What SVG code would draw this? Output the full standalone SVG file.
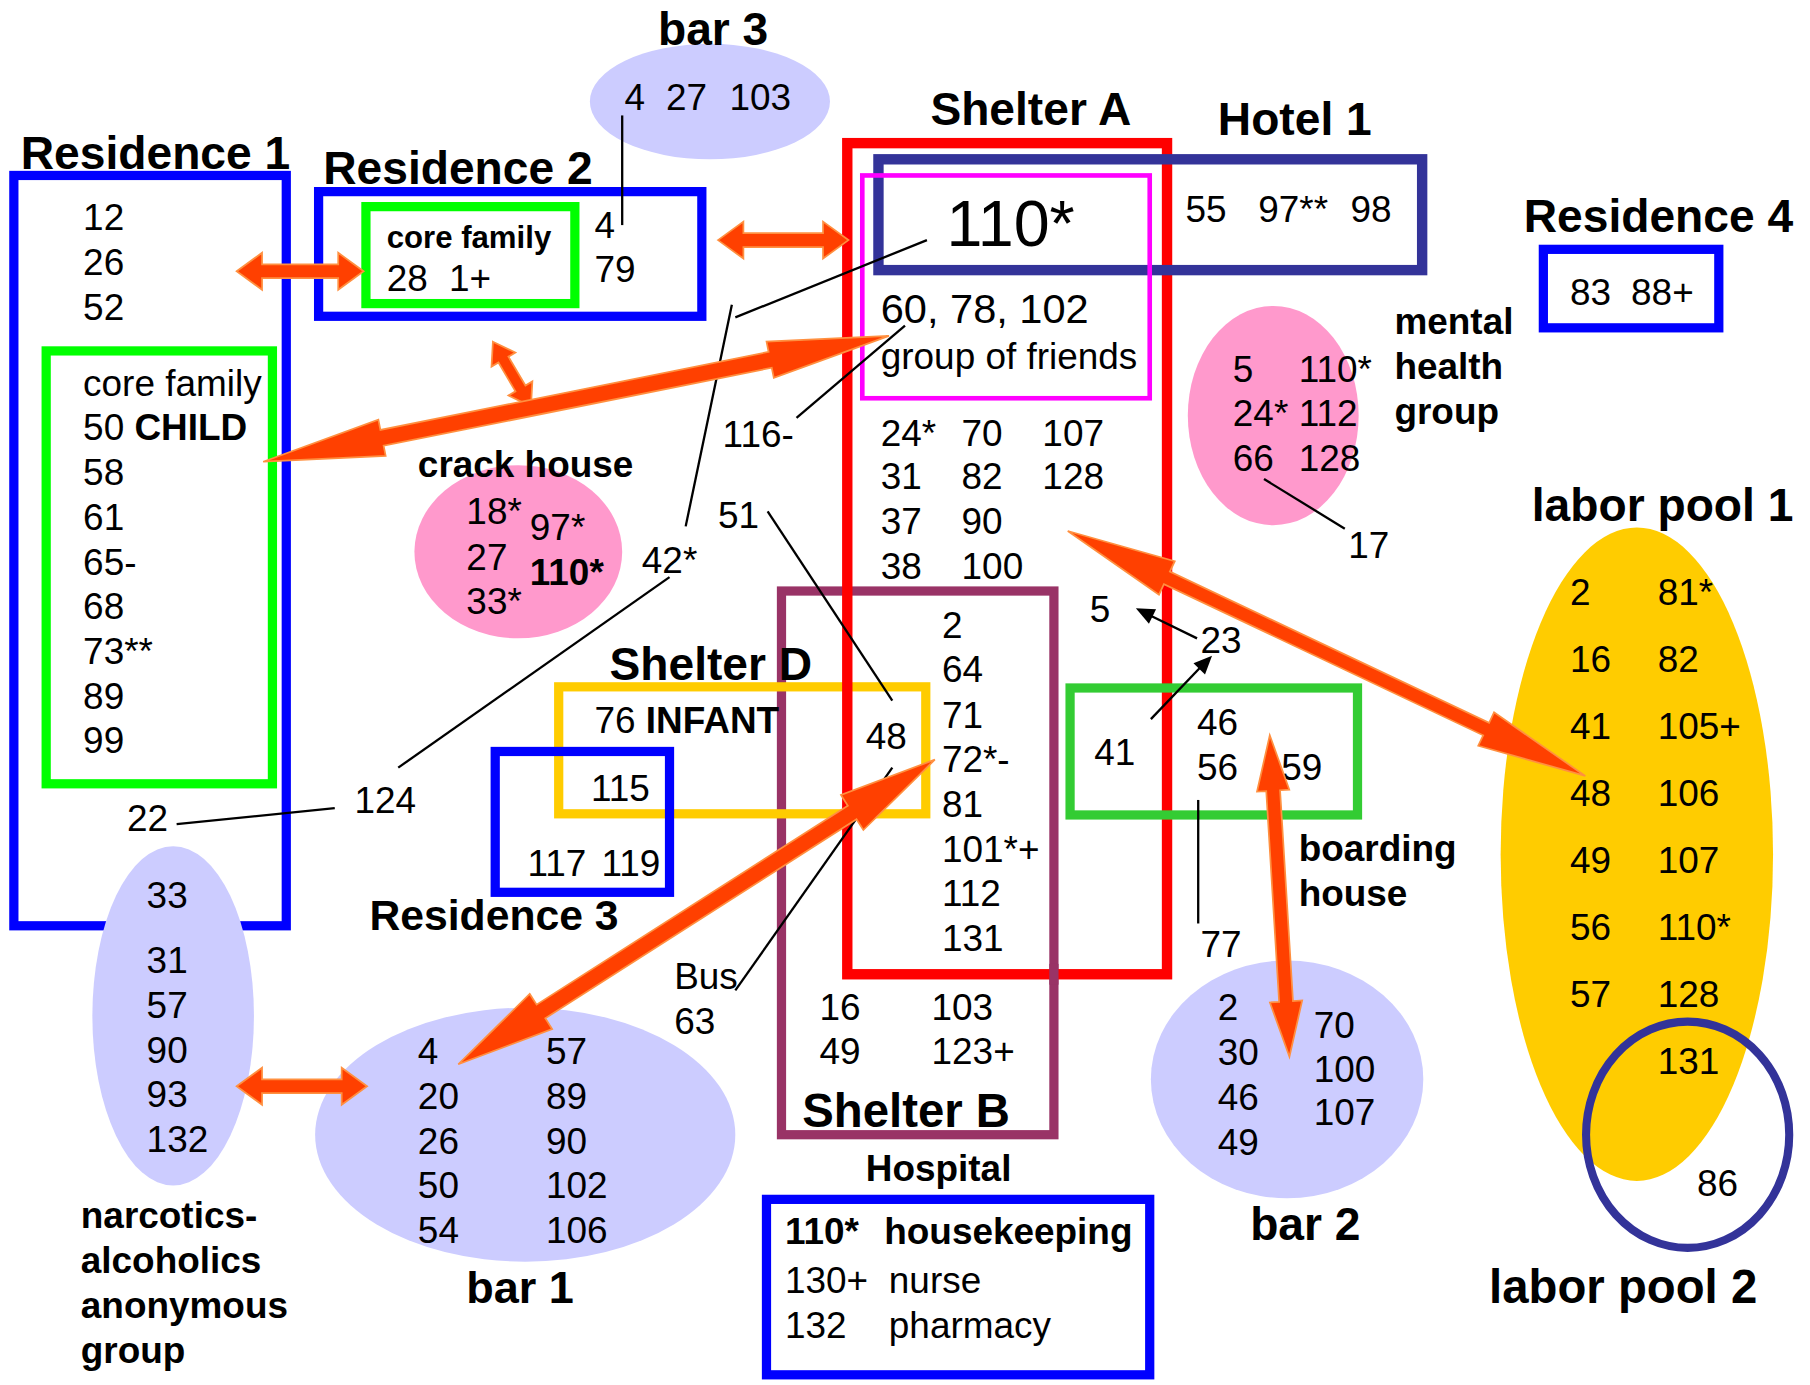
<svg xmlns="http://www.w3.org/2000/svg" width="1810" height="1385" viewBox="0 0 1810 1385">
<defs>
<style>
text{font-family:"Liberation Sans",Arial,sans-serif;font-size:32px;fill:#000}
.t{font-weight:bold;font-size:40px}
.b{font-weight:bold}
.box{fill:none}
.ln{stroke:#000;stroke-width:2;fill:none}
.arr{fill:#FF4000;stroke:#FF9040;stroke-width:1.5}
.hd{fill:#000}
</style>
</defs>
<rect width="1810" height="1385" fill="#fff"/>
<g transform="scale(1.15434)">
<g id="bar3"><ellipse cx="615" cy="88" rx="104" ry="50" fill="#CCCCFF"/><text class="t" x="570" y="39">bar 3</text><text x="541" y="95">4</text><text x="577" y="95">27</text><text x="632" y="95">103</text></g>
<g id="residence1"><rect class="box" x="12" y="152" width="236" height="650" stroke="#0000FF" stroke-width="8"/><text class="t" x="18" y="146">Residence 1</text><text x="72" y="199">12</text><text x="72" y="238">26</text><text x="72" y="277">52</text><text x="110" y="720">22</text></g>
<g id="core-family-1"><rect class="box" x="40" y="304" width="196" height="375" stroke="#00FF00" stroke-width="8"/><text x="72" y="343">core family</text><text x="72" y="381">50 <tspan class="b">CHILD</tspan></text><text x="72" y="420">58</text><text x="72" y="459">61</text><text x="72" y="498">65-</text><text x="72" y="536">68</text><text x="72" y="575">73**</text><text x="72" y="614">89</text><text x="72" y="652">99</text></g>
<g id="narcotics"><ellipse cx="150" cy="880" rx="70" ry="147" fill="#CCCCFF"/><text x="127" y="787">33</text><text x="127" y="843">31</text><text x="127" y="882">57</text><text x="127" y="921">90</text><text x="127" y="959">93</text><text x="127" y="998">132</text><text class="b" x="70" y="1064">narcotics-</text><text class="b" x="70" y="1103">alcoholics</text><text class="b" x="70" y="1142">anonymous</text><text class="b" x="70" y="1181">group</text></g>
<g id="residence2"><rect class="box" x="276" y="166" width="332" height="108" stroke="#0000FF" stroke-width="8"/><text class="t" x="280" y="159">Residence 2</text><text x="515" y="206">4</text><text x="515" y="244">79</text></g>
<g id="core-family-2"><rect class="box" x="317" y="179" width="181" height="84" stroke="#00FF00" stroke-width="8"/><text class="b" x="335" y="215" style="font-size:27px">core family</text><text x="335" y="252">28</text><text x="389" y="252">1+</text></g>
<g id="crack-house"><ellipse cx="449" cy="478" rx="90" ry="75" fill="#FF99CC"/><text class="b" x="362" y="413">crack house</text><text x="404" y="454">18*</text><text x="459" y="468">97*</text><text x="404" y="494">27</text><text class="b" x="459" y="507">110*</text><text x="404" y="532">33*</text></g>
<g id="shelterB"><rect class="box" x="677" y="512" width="236" height="471" stroke="#993366" stroke-width="8"/><text class="t" x="695" y="976" style="font-size:41px">Shelter B</text><text x="816" y="553">2</text><text x="816" y="591">64</text><text x="816" y="631">71</text><text x="816" y="669">72*-</text><text x="816" y="708">81</text><text x="816" y="747">101*+</text><text x="816" y="785">112</text><text x="816" y="824">131</text><text x="710" y="884">16</text><text x="710" y="922">49</text><text x="807" y="884">103</text><text x="807" y="922">123+</text></g>
<g id="shelterD"><rect class="box" x="484" y="595" width="318" height="110" stroke="#FFCC00" stroke-width="8"/><text class="t" x="528" y="589">Shelter D</text><text x="515" y="635">76 <tspan class="b">INFANT</tspan></text><text x="750" y="649">48</text><text x="512" y="694">115</text></g>
<g id="residence3"><rect class="box" x="429" y="651" width="151" height="122" stroke="#0000FF" stroke-width="8"/><text x="457" y="759">117</text><text x="521" y="759">119</text><text class="b" x="320" y="806" style="font-size:37px">Residence 3</text></g>
<g id="shelterA"><rect class="box" x="734" y="124" width="277" height="720" stroke="#FF0000" stroke-width="9"/><line x1="913" y1="835" x2="913" y2="853" stroke="#993366" stroke-width="8"/><text class="t" x="806" y="108">Shelter A</text><text x="763" y="386">24*</text><text x="833" y="386">70</text><text x="903" y="386">107</text><text x="763" y="424">31</text><text x="833" y="424">82</text><text x="903" y="424">128</text><text x="763" y="463">37</text><text x="833" y="463">90</text><text x="763" y="502">38</text><text x="833" y="502">100</text></g>
<g id="hotel1"><rect class="box" x="761" y="138" width="471" height="96" stroke="#333399" stroke-width="9"/><text class="t" x="1055" y="117">Hotel 1</text><text x="1027" y="192">55</text><text x="1090" y="192">97**</text><text x="1170" y="192">98</text></g>
<g id="group-of-friends"><rect class="box" x="747" y="152" width="249" height="193" stroke="#FF00FF" stroke-width="4"/><text x="820" y="213" style="font-size:56px">110*</text><text x="763" y="280" style="font-size:36px">60, 78, 102</text><text x="763" y="320">group of friends</text></g>
<g id="mental-health"><ellipse cx="1103" cy="360" rx="74" ry="95" fill="#FF99CC"/><text x="1068" y="331">5</text><text x="1125" y="331">110*</text><text x="1068" y="369">24*</text><text x="1125" y="369">112</text><text x="1068" y="408">66</text><text x="1125" y="408">128</text><text class="b" x="1208" y="289">mental</text><text class="b" x="1208" y="328">health</text><text class="b" x="1208" y="367">group</text><text x="1168" y="483">17</text></g>
<g id="residence4"><rect class="box" x="1337" y="216" width="152" height="68" stroke="#0000FF" stroke-width="8"/><text class="t" x="1320" y="201">Residence 4</text><text x="1360" y="264">83</text><text x="1413" y="264">88+</text></g>
<g id="labor-pool-1"><ellipse cx="1418" cy="740" rx="118" ry="283" fill="#FFCC00"/><text class="t" x="1327" y="451">labor pool 1</text>
<text x="1360" y="524">2</text><text x="1436" y="524">81*</text><text x="1360" y="582">16</text><text x="1436" y="582">82</text><text x="1360" y="640">41</text><text x="1436" y="640">105+</text><text x="1360" y="698">48</text><text x="1436" y="698">106</text><text x="1360" y="756">49</text><text x="1436" y="756">107</text><text x="1360" y="814">56</text><text x="1436" y="814">110*</text><text x="1360" y="872">57</text><text x="1436" y="872">128</text><text x="1436" y="930">131</text></g>
<g id="labor-pool-2"><ellipse cx="1462" cy="983" rx="88" ry="98" fill="none" stroke="#333399" stroke-width="7"/><text x="1470" y="1036">86</text><text class="t" x="1290" y="1129" style="font-size:41px">labor pool 2</text></g>
<g id="boarding-house"><rect class="box" x="927" y="596" width="249" height="110" stroke="#33CC33" stroke-width="8"/><text x="948" y="663">41</text><text x="1037" y="637">46</text><text x="1037" y="676">56</text><text x="1110" y="676">59</text><text class="b" x="1125" y="746">boarding</text><text class="b" x="1125" y="785">house</text></g>
<g id="misc"><text x="944" y="539">5</text><text x="1040" y="566">23</text><text x="1040" y="829">77</text><text x="626" y="387">116-</text><text x="622" y="457">51</text><text x="556" y="496">42*</text><text x="307" y="704">124</text><text x="584" y="857">Bus</text><text x="584" y="896">63</text></g>
<g id="bar2"><ellipse cx="1115" cy="935" rx="118" ry="103" fill="#CCCCFF"/><text x="1055" y="884">2</text><text x="1055" y="923">30</text><text x="1055" y="962">46</text><text x="1055" y="1001">49</text><text x="1138" y="899">70</text><text x="1138" y="937">100</text><text x="1138" y="975">107</text><text class="t" x="1083" y="1074">bar 2</text></g>
<g id="bar1"><ellipse cx="455" cy="983" rx="182" ry="110" fill="#CCCCFF"/><text x="362" y="922">4</text><text x="362" y="961">20</text><text x="362" y="1000">26</text><text x="362" y="1038">50</text><text x="362" y="1077">54</text><text x="473" y="922">57</text><text x="473" y="961">89</text><text x="473" y="1000">90</text><text x="473" y="1038">102</text><text x="473" y="1077">106</text><text class="t" x="404" y="1129" style="font-size:39px">bar 1</text></g>
<g id="hospital"><rect class="box" x="664" y="1039" width="332" height="152" stroke="#0000FF" stroke-width="8"/><text class="b" x="750" y="1023">Hospital</text><text class="b" x="680" y="1078">110*</text><text class="b" x="766" y="1078">housekeeping</text><text x="680" y="1120">130+</text><text x="770" y="1120">nurse</text><text x="680" y="1159">132</text><text x="770" y="1159">pharmacy</text></g>
<g id="connectors">
<line class="ln" x1="539" y1="195" x2="539" y2="100"/>
<line class="ln" x1="594" y1="456" x2="634" y2="264"/>
<line class="ln" x1="637" y1="275" x2="803" y2="208"/>
<line class="ln" x1="345" y1="665" x2="580" y2="500"/>
<line class="ln" x1="153" y1="714" x2="290" y2="700"/>
<line class="ln" x1="690" y1="362" x2="784" y2="282"/>
<line class="ln" x1="665" y1="443" x2="773" y2="607"/>
<line class="ln" x1="637" y1="858" x2="773" y2="665"/>
<line class="ln" x1="1095" y1="415" x2="1165" y2="458"/>
<line class="ln" x1="1038" y1="693" x2="1038" y2="800"/>
<line class="ln" x1="1037" y1="553" x2="996" y2="533"/>
<polygon class="hd" points="984,527 1001.5,527.7 995.3,540.3"/>
<line class="ln" x1="997" y1="623" x2="1041" y2="577"/>
<polygon class="hd" points="1050,568 1043.9,584.4 1033.9,574.6"/>
<path class="arr" transform="translate(205,235)" d="M0,0 L22,-16 L22,-6 L88,-6 L88,-16 L110,0 L88,16 L88,6 L22,6 L22,16 Z"/>
<path class="arr" transform="translate(622,208)" d="M0,0 L22,-16 L22,-6 L91,-6 L91,-16 L113,0 L91,16 L91,6 L22,6 L22,16 Z"/>
<path class="arr" transform="translate(205,941)" d="M0,0 L22,-16 L22,-6 L91,-6 L91,-16 L113,0 L91,16 L91,6 L22,6 L22,16 Z"/>
<path class="arr" transform="translate(427,296) rotate(59.5)" d="M0,0 L18,-12 L18,-5 L47,-5 L47,-12 L65,0 L47,12 L47,5 L18,5 L18,12 Z"/>
<path class="arr" transform="translate(228,400) rotate(-11.37)" d="M0,0 L105,-16 L105,-7 L448,-7 L448,-16 L553,0 L448,16 L448,7 L105,7 L105,16 Z"/>
<path class="arr" transform="translate(925,460) rotate(25.33)" d="M0,0 L95,-16 L95,-6 L401,-6 L401,-16 L496,0 L401,16 L401,6 L95,6 L95,16 Z"/>
<path class="arr" transform="translate(397,922) rotate(-32.59)" d="M0,0 L85,-18 L85,-7 L405,-7 L405,-18 L490,0 L405,18 L405,7 L85,7 L85,18 Z"/>
<path class="arr" transform="translate(1100,637) rotate(86.5)" d="M0,0 L48,-14 L48,-6 L231,-6 L231,-14 L279,0 L231,14 L231,6 L48,6 L48,14 Z"/>
</g>
</g>
</svg>
